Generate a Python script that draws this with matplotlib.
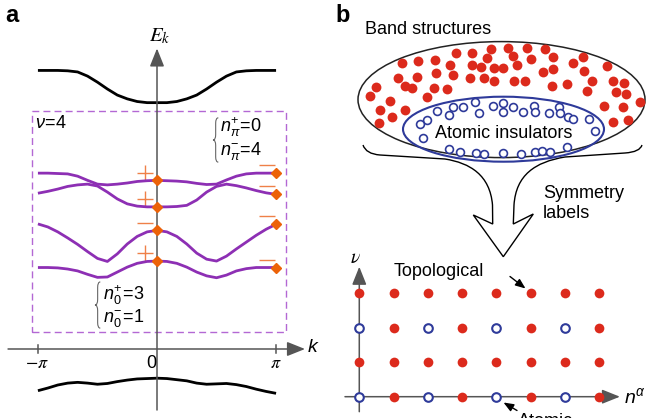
import numpy as np
import matplotlib

matplotlib.use("Agg")

import matplotlib.pyplot as plt
from matplotlib.patches import Ellipse, Rectangle, PathPatch
from matplotlib.path import Path

# ---------------- panel a: band structure (k in steps of pi/12) ----------------
k_steps = np.arange(-12, 13)
upper_black = [7.35, 7.35, 7.35, 7.34, 7.31, 7.20, 7.04, 6.86, 6.70, 6.60, 6.53, 6.50, 6.50,
               6.50, 6.53, 6.60, 6.70, 6.86, 7.04, 7.20, 7.31, 7.34, 7.35, 7.35, 7.35]
band1 = [4.64, 4.64, 4.63, 4.62, 4.56, 4.45, 4.35, 4.33, 4.35, 4.38, 4.42, 4.44, 4.45,
         4.44, 4.43, 4.41, 4.37, 4.34, 4.35, 4.46, 4.56, 4.62, 4.64, 4.64, 4.64]
band2 = [4.11, 4.16, 4.22, 4.29, 4.33, 4.35, 4.30, 4.14, 3.96, 3.83, 3.77, 3.75, 3.75,
         3.75, 3.76, 3.79, 3.93, 4.14, 4.29, 4.35, 4.31, 4.25, 4.18, 4.12, 4.08]
band3 = [3.30, 3.22, 3.09, 2.93, 2.76, 2.57, 2.39, 2.31, 2.51, 2.77, 2.97, 3.09, 3.13,
         3.09, 2.97, 2.77, 2.53, 2.37, 2.32, 2.45, 2.64, 2.82, 3.00, 3.16, 3.29]
band4 = [2.15, 2.15, 2.14, 2.11, 2.06, 1.97, 1.89, 1.90, 2.03, 2.16, 2.26, 2.31, 2.32,
         2.31, 2.26, 2.16, 2.03, 1.93, 1.88, 1.95, 2.06, 2.12, 2.15, 2.15, 2.15]
lower_black = [-1.10, -1.03, -0.95, -0.90, -0.88, -0.90, -0.93, -0.91, -0.86, -0.82, -0.79, -0.78, -0.77,
               -0.78, -0.81, -0.84, -0.90, -0.93, -0.92, -0.91, -0.94, -0.99, -1.06, -1.12, -1.17]
occupied = [band1, band2, band3, band4]
parity_at_0 = ["+", "+", "-", "+"]
parity_at_pi = ["-", "-", "-", "-"]

# ---------------- panel b: cloud of band structures ----------------
red_x = [456, 471.7, 490.7, 508, 513.3, 526.7, 545, 552.7, 530.7,
         401.7, 418.3, 435, 450, 471.7, 481, 486.7, 494, 503.3, 517,
         543.3, 552.7, 573.3, 582.7, 584, 606.7,
         398.3, 416.7, 405, 411.7, 436, 453.3, 470, 484, 494, 514, 525,
         551.7, 567.3, 591.7, 612.7, 624,
         376, 370, 434, 446.7, 426.7, 390, 405, 380, 391.7, 379.3,
         587.3, 616, 626, 640, 604, 622.7, 612.7, 628.3]
red_y = [52.7, 53.3, 49.3, 48, 56, 48.3, 49.3, 57.3, 59.3,
         63.3, 60.7, 60, 65, 65, 67, 58.3, 68, 68.3, 65,
         71.7, 69.3, 63.3, 57.3, 70.7, 66,
         78.3, 77.3, 86, 88.3, 73.3, 75, 78.3, 78.3, 80.7, 80.7, 80.7,
         86, 84, 80.7, 80.7, 82.7,
         87.3, 96, 88.3, 89.3, 96.7, 100.7, 110, 110, 117.3, 123.3,
         90.7, 91.7, 94, 101.7, 106, 107.3, 121.7, 120]
blue_x = [475, 463.3, 452.7, 436.7, 449.3, 479.3, 492.7, 502.7, 503.3, 512.7, 523.3, 534, 535,
          549.3, 559.3, 560, 568.3, 572.7, 589.3, 595, 426.7, 420, 423.3,
          449.3, 460, 476, 484, 502.7, 520.7, 535, 541.7, 550, 567.3]
blue_y = [101.7, 106.7, 107.3, 110.7, 115, 113.3, 106, 103.3, 111.7, 107.3, 111.7, 106, 111.7,
          113.3, 107.3, 113.3, 116.7, 119.3, 119.3, 130.7, 120, 124, 138.3,
          149, 151.7, 153.3, 154, 153.3, 154, 151.7, 150.7, 151.7, 146.7]

# lattice of symmetry labels: 1 = atomic insulator, 0 = topological
lattice_atomic = [[1, 0, 1, 0, 1, 0, 1, 0],
                  [0, 0, 0, 0, 0, 0, 0, 0],
                  [1, 0, 1, 0, 1, 0, 1, 0],
                  [0, 0, 0, 0, 0, 0, 0, 0]]

PURPLE = "#8d2fb4"
ORANGE = "#ec6208"
SIGN = "#ef8048"
RED = "#dc2a1c"
BLUE = "#2e3a9a"
AXIS = "#555555"

plt.rcParams["font.family"] = "Liberation Sans"
plt.rcParams["mathtext.fontset"] = "custom"
plt.rcParams["mathtext.rm"] = "Liberation Sans"
plt.rcParams["mathtext.it"] = "Liberation Sans:italic"
plt.rcParams["mathtext.bf"] = "Liberation Sans:bold"


def curly_brace(ax, x, top, bottom, width, **kw):
    mid = 0.5 * (top + bottom)
    d = 0.12 * (top - bottom)
    xm = x + width / 2
    verts = [(x + width, top), (xm, top), (xm, top - d),
             (xm, mid + d), (xm, mid), (x, mid),
             (xm, mid), (xm, mid - d),
             (xm, bottom + d), (xm, bottom), (x + width, bottom)]
    codes = [Path.MOVETO, Path.CURVE3, Path.CURVE3, Path.LINETO, Path.CURVE3, Path.CURVE3,
             Path.CURVE3, Path.CURVE3, Path.LINETO, Path.CURVE3, Path.CURVE3]
    ax.add_patch(PathPatch(Path(verts, codes), fc="none", **kw))


def axis_arrow(ax, start, end, lw=1.1):
    ax.annotate("", xy=end, xytext=start,
                arrowprops=dict(arrowstyle="-|>,head_length=0.55,head_width=0.22",
                                mutation_scale=20, color=AXIS, lw=lw,
                                shrinkA=0, shrinkB=0))


fig = plt.figure(figsize=(6.48, 4.18), dpi=100)

# ---------------- panel a ----------------
ax = fig.add_axes([0, 0, 320 / 648, 1])
ax.set_xlim(-4.1425, 4.3008)
ax.set_ylim(-1.8206, 9.2084)
ax.axis("off")

k = k_steps * np.pi / 12
ax.plot(k, upper_black, color="black", lw=2.0, solid_capstyle="butt")
ax.plot(k, lower_black, color="black", lw=2.0, solid_capstyle="butt")
for band in occupied:
    ax.plot(k, band, color=PURPLE, lw=2.0, solid_capstyle="butt", zorder=3)

ax.add_patch(Rectangle((-3.29, 0.45), 3.29 + 3.396, 6.28 - 0.45, fc="none",
                       ec="#b368d4", lw=1.0, ls=(0, (5, 3))))

axis_arrow(ax, (-3.93, 0), (3.905, 0))
axis_arrow(ax, (0, -1.61), (0, 7.93))
for kt in (-np.pi, np.pi):
    ax.plot([kt, kt], [-0.1, 0.1], color=AXIS, lw=1.1)

for band, s0, spi in zip(occupied, parity_at_0, parity_at_pi):
    ax.plot([0, np.pi], [band[12], band[-1]], ls="none", marker="D", ms=4.8,
            color=ORANGE, mec=ORANGE, zorder=5, clip_on=False)
    ax.plot(-0.32, band[12] + 0.2, marker="+" if s0 == "+" else "_", ms=11, mew=1.0, color=SIGN)
    ax.plot(np.pi - 0.25, band[-1] + 0.21, marker="_", ms=11, mew=1.0, color=SIGN)

ax.text(0.08, 8.25, r"$E_k$", math_fontfamily="stix", fontsize=15, ha="center", va="center")
ax.text(4.12, 0.03, r"$k$", fontsize=14, ha="center", va="center")
ax.text(-2.85, -0.38, r"$-\pi$", math_fontfamily="stix", fontsize=13, ha="right", va="center")
ax.text(np.pi, -0.38, r"$\pi$", math_fontfamily="stix", fontsize=13, ha="center", va="center")
ax.text(-0.16, -0.38, "0", fontsize=13, ha="center", va="center")
ax.text(-3.22, 5.96, r"$\nu\!=\!4$", fontsize=13, ha="left", va="center")

curly_brace(ax, 1.478, 6.1, 4.93, 0.14, ec="#666666", lw=0.8)
ax.text(1.66, 5.86, r"$n_{\pi}^{+}\!=\!0$", fontsize=13, ha="left", va="center")
ax.text(1.66, 5.22, r"$n_{\pi}^{-}\!=\!4$", fontsize=13, ha="left", va="center")
curly_brace(ax, -1.636, 1.77, 0.55, 0.14, ec="#666666", lw=0.8)
ax.text(-1.42, 1.43, r"$n_{0}^{+}\!=\!3$", fontsize=13, ha="left", va="center")
ax.text(-1.42, 0.82, r"$n_{0}^{-}\!=\!1$", fontsize=13, ha="left", va="center")

# ---------------- panel b: top schematic ----------------
bx = fig.add_axes([330 / 648, 0, 318 / 648, 1])
bx.set_xlim(330, 648)
bx.set_ylim(418, 0)
bx.axis("off")

bx.add_patch(Ellipse((501.5, 99.6), 287, 116, fc="none", ec="#222222", lw=1.1))
bx.add_patch(Ellipse((503.5, 129.2), 201, 65, fc="none", ec=BLUE, lw=1.5, zorder=3))
bx.scatter(red_x, red_y, s=50, color=RED, lw=0, zorder=2)
bx.scatter(blue_x, blue_y, s=32, facecolor="white", edgecolor=BLUE, lw=1.2, zorder=4)
bx.text(428, 30, "Band structures", fontsize=13, ha="center", va="center")
bx.text(504, 133, "Atomic insulators", fontsize=13, ha="center", va="center", zorder=5)

funnel = [(363, 145), (366, 154), (380, 155), (445, 159), (470, 163), (490, 175), (492.5, 205),
          (492.7, 224), (473.3, 215), (503.3, 256.7), (533.3, 214), (513.3, 224),
          (514, 205), (516, 175), (535, 162), (565, 157), (625, 153), (640, 152), (642, 145)]
funnel_codes = [Path.MOVETO, Path.CURVE3, Path.CURVE3, Path.LINETO, Path.CURVE4, Path.CURVE4, Path.CURVE4,
                Path.LINETO, Path.LINETO, Path.LINETO, Path.LINETO, Path.LINETO,
                Path.LINETO, Path.CURVE4, Path.CURVE4, Path.CURVE4, Path.LINETO, Path.CURVE3, Path.CURVE3]
bx.add_patch(PathPatch(Path(funnel, funnel_codes), fc="none", ec="black", lw=1.0, joinstyle="miter"))
bx.text(543, 193, "Symmetry", fontsize=13, ha="left", va="center")
bx.text(543, 214, "labels", fontsize=13, ha="left", va="center")

bx.text(439, 271, "Topological", fontsize=13, ha="center", va="center")
bx.annotate("", xy=(525.5, 288.5), xytext=(510, 276.5),
            arrowprops=dict(arrowstyle="-|>,head_length=0.5,head_width=0.2",
                            mutation_scale=12, color="black", lw=1.0, shrinkA=0, shrinkB=0))
bx.text(518, 412.5, "Atomic", fontsize=13, ha="left", va="top", clip_on=False)
bx.annotate("", xy=(503.5, 402.5), xytext=(517, 410.5),
            arrowprops=dict(arrowstyle="-|>,head_length=0.5,head_width=0.2",
                            mutation_scale=12, color="black", lw=1.0, shrinkA=0, shrinkB=0))

# ---------------- panel b: lattice of symmetry labels ----------------
cx = fig.add_axes([330 / 648, 0, 318 / 648, 250 / 418])
cx.set_xlim(-0.854, 8.419)
cx.set_ylim(-0.618, 6.635)
cx.axis("off")

axis_arrow(cx, (0, -0.435), (0, 3.77))
axis_arrow(cx, (-0.417, 0), (7.6, 0))

atomic = np.array(lattice_atomic)
nu_idx, n_idx = np.nonzero(atomic == 0)
cx.plot(n_idx, nu_idx, ls="none", marker="o", ms=7.0, color=RED, mew=0, zorder=3)
nu_idx, n_idx = np.nonzero(atomic == 1)
cx.plot(n_idx, nu_idx, ls="none", marker="o", ms=6.2, mfc="white", mec=BLUE, mew=1.5, zorder=3)

cx.text(-0.125, 4.02, r"$\nu$", math_fontfamily="stix", fontsize=14, ha="center", va="center")
cx.text(7.72, 0.0, r"$n^{\alpha}$", fontsize=14, ha="left", va="center")

fig.text(12 / 648, 1 - 15 / 418, "a", fontsize=17, fontweight="bold", ha="center", va="center")
fig.text(343 / 648, 1 - 15 / 418, "b", fontsize=17, fontweight="bold", ha="center", va="center")

fig.savefig("out.png", dpi=100)
